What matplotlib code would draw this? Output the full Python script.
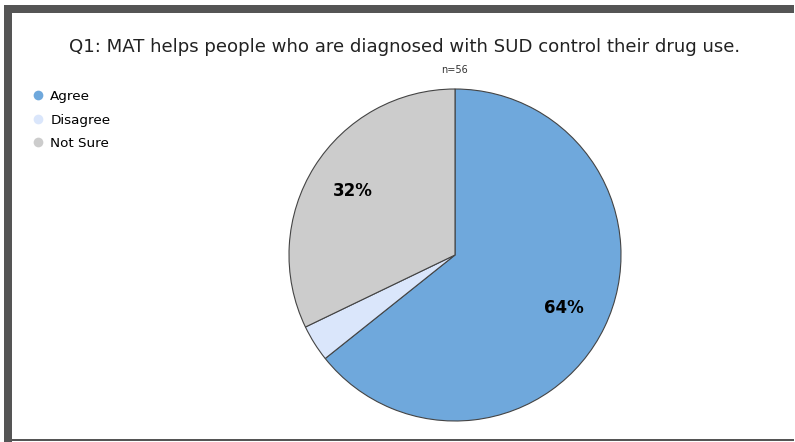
import matplotlib
matplotlib.use("Agg")
import matplotlib.pyplot as plt
from matplotlib.patches import Rectangle
from matplotlib.lines import Line2D

categories = ["Agree", "Disagree", "Not Sure"]
counts = [36, 2, 18]
colors = ["#6fa8dc", "#dae6fb", "#cccccc"]
title = "Q1: MAT helps people who are diagnosed with SUD control their drug use."
subtitle = "n=56"

W, H = 795, 442
fig = plt.figure(figsize=(W / 100, H / 100), dpi=100)
fig.patch.set_facecolor("white")

# frame: thick dark bar left and top, thin line at bottom
fig.patches.append(Rectangle((4 / W, 0), 8 / W, (H - 5) / H, transform=fig.transFigure,
                             facecolor="#555555", edgecolor="none"))
fig.patches.append(Rectangle((4 / W, (H - 13) / H), (W - 5) / W, 8 / H, transform=fig.transFigure,
                             facecolor="#555555", edgecolor="none"))
fig.patches.append(Rectangle((4 / W, 1 / H), (W - 5) / W, 2 / H, transform=fig.transFigure,
                             facecolor="#555555", edgecolor="none"))

# pie axes: center (455, 255), radius 166 px
cx, cy, r = 455, 255, 166
ax = fig.add_axes([(cx - r) / W, (H - cy - r) / H, 2 * r / W, 2 * r / H])


def fmt(p):
    return "%d%%" % round(p) if p > 5 else ""


wedges, texts, autotexts = ax.pie(counts, colors=colors, startangle=90, counterclock=False,
                                  autopct=fmt, pctdistance=0.73,
                                  wedgeprops=dict(edgecolor="#444444", linewidth=0.8),
                                  textprops=dict(fontsize=12, fontweight="bold", color="black"))
ax.set_aspect("equal")
ax.set_xlim(-1, 1)
ax.set_ylim(-1, 1)

fig.text(405 / W, 1 - 47 / H, title, ha="center", va="center", fontsize=13.1, color="#222222")
fig.text(455 / W, 1 - 70 / H, subtitle, ha="center", va="center", fontsize=7, color="#333333")

# legend
handles = [Line2D([], [], marker="o", linestyle="none", markersize=7,
                  markerfacecolor=c, markeredgecolor="none") for c in colors]
fig.legend(handles, categories, loc="upper left", bbox_to_anchor=(30 / W, 1 - 90 / H),
           frameon=False, fontsize=9.7, handletextpad=0.3, labelspacing=0.78,
           handlelength=1.2, borderaxespad=0, borderpad=0)

fig.savefig("out.png", dpi=100)
